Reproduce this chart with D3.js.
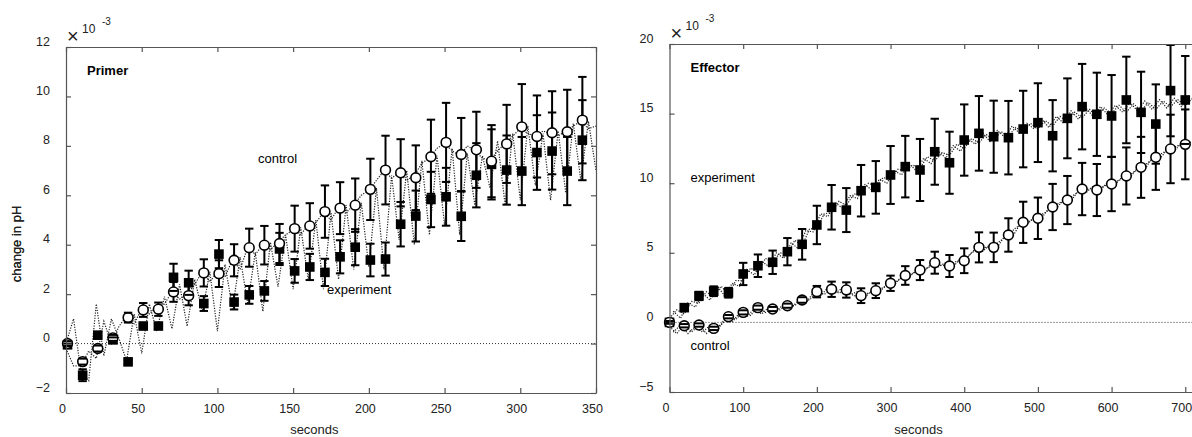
<!DOCTYPE html>
<html>
<head>
<meta charset="utf-8">
<script src="https://cdn.jsdelivr.net/npm/d3@7"></script>
<style>
  body { margin: 0; background: #fff; }
  svg { display: block; font-family: "Liberation Sans", Arial, sans-serif; }
</style>
</head>
<body>
<svg id="chart" width="1192" height="437"></svg>
<script>
// 左图 Primer：时间点 (s)
const primerTime = [1, 11, 21, 31, 41, 51, 61, 71, 81, 91, 101, 111, 121, 131, 141, 151, 161, 171,
    181, 191, 201, 211, 221, 231, 241, 251, 261, 271, 281, 291, 301, 311, 321, 331, 341];
const primerControl = [0.0, -0.73, -0.2, 0.23, 1.05, 1.36, 1.39, 2.09, 1.94, 2.86, 2.83, 3.37, 3.88, 3.98,
    4.05, 4.65, 4.76, 5.34, 5.48, 5.6, 6.24, 7.02, 6.91, 6.71, 7.56, 8.14, 7.65, 7.84, 7.38, 8.08,
    8.77, 8.38, 8.53, 8.57, 9.04];
const primerControlErr = [0.1, 0.12, 0.12, 0.12, 0.2, 0.28, 0.27, 0.4, 0.39, 0.55, 0.54, 0.65, 0.77, 0.78,
    0.79, 0.93, 0.92, 1.06, 1.05, 1.08, 1.24, 1.39, 1.36, 1.31, 1.5, 1.6, 1.48, 1.54, 1.46, 1.58,
    1.73, 1.66, 1.68, 1.7, 1.75];
const primerExp = [-0.05, -1.28, 0.34, 0.15, -0.74, 0.71, 0.71, 2.68, 2.46, 1.62, 3.62, 1.68, 1.97, 2.13,
    3.83, 2.94, 3.1, 2.88, 3.51, 3.9, 3.38, 3.42, 4.83, 5.16, 5.83, 5.94, 5.15, 6.81, 7.25, 7.02,
    6.98, 7.73, 7.79, 6.98, 8.23];
const primerExpErr = [0.05, 0.24, 0.1, 0.1, 0.08, 0.08, 0.08, 0.55, 0.49, 0.3, 0.57, 0.3, 0.36, 0.4,
    0.65, 0.48, 0.53, 0.55, 0.67, 0.73, 0.66, 0.67, 0.9, 1.03, 1.12, 1.17, 1.0, 1.3, 1.42, 1.4,
    1.38, 1.51, 1.56, 1.38, 1.62];
// 左图虚线原始曲线 (每 5 s)
const primerTraceTime = d3.range(0, 351, 5);
const primerTraceA = [0, 1.0, -1.2, -1.5, 1.6, -0.5, 1.0, 0.2, -0.7, 1.2, -0.4, 1.6, 0.5, 1.9, 0.6, 2.4,
    0.7, 2.6, 1.3, 2.9, 0.5, 3.2, 1.4, 3.5, 1.6, 3.7, 1.3, 4.1, 2.3, 4.4, 2.2, 4.7, 2.6, 5.0, 2.2,
    5.3, 2.6, 5.6, 3.0, 5.7, 3.1, 6.3, 3.0, 6.8, 4.2, 7.0, 4.0, 7.4, 4.4, 7.6, 4.8, 7.9, 4.4, 7.7,
    5.6, 7.6, 6.3, 8.2, 5.6, 8.5, 5.8, 8.8, 6.4, 8.5, 5.8, 8.6, 6.1, 8.9, 6.6, 9.0, 7.0];
const primerTraceB = [-0.2, -0.9, -0.9, -0.3, -0.6, 0.9, 0.0, 0.7, 1.1, 0.8, 1.4, 1.2, 1.5, 1.6, 2.1, 1.8,
    2.0, 2.4, 2.9, 2.5, 2.9, 2.7, 3.4, 3.0, 3.9, 3.6, 4.0, 3.8, 4.1, 4.4, 4.6, 4.4, 4.8, 4.9, 5.3,
    5.0, 5.5, 5.3, 5.6, 6.0, 6.2, 6.6, 7.0, 6.7, 6.9, 6.6, 6.8, 7.3, 7.5, 7.9, 8.1, 7.8, 7.6, 8.0,
    7.8, 7.5, 7.4, 7.8, 8.1, 8.4, 8.7, 8.5, 8.4, 8.6, 8.5, 8.4, 8.6, 8.8, 9.0, 8.7, 8.8];

// 右图 Effector
const effectorTime = [0, 20, 40, 60, 80, 100, 120, 140, 160, 180, 200, 220, 240, 260, 280, 300, 320, 340,
    360, 380, 400, 420, 440, 460, 480, 500, 520, 540, 560, 580, 600, 620, 640, 660, 680, 700];
const effectorControl = [0.0, -0.24, -0.19, -0.43, 0.41, 0.72, 1.06, 0.96, 1.2, 1.61, 2.21, 2.38, 2.33,
    1.92, 2.28, 2.81, 3.37, 3.76, 4.29, 4.05, 4.43, 5.39, 5.39, 6.28, 7.19, 7.48, 8.29, 8.79, 9.58,
    9.51, 9.94, 10.52, 11.14, 11.86, 12.46, 12.79];
const effectorControlErr = [0.1, 0.12, 0.12, 0.12, 0.12, 0.15, 0.15, 0.15, 0.15, 0.2, 0.41, 0.55, 0.55,
    0.53, 0.53, 0.55, 0.67, 0.72, 0.79, 0.79, 0.89, 1.08, 1.06, 1.2, 1.48, 1.49, 1.66, 1.73, 1.88,
    1.87, 1.95, 2.05, 2.19, 2.34, 2.46, 2.51];
const effectorExp = [0.0, 1.06, 1.9, 2.24, 2.13, 3.48, 4.07, 4.32, 5.08, 5.61, 7.0, 8.27, 8.07, 9.46,
    9.7, 10.59, 11.19, 10.95, 12.26, 11.47, 13.1, 13.58, 13.34, 13.27, 13.89, 14.35, 13.41, 14.66,
    15.5, 14.95, 14.83, 15.98, 15.09, 14.25, 16.65, 15.98];
const effectorExpErr = [0.05, 0.2, 0.3, 0.35, 0.35, 0.8, 0.81, 0.84, 0.98, 1.1, 1.38, 1.6, 1.58, 1.85,
    1.89, 2.08, 2.21, 2.23, 2.37, 2.23, 2.56, 2.68, 2.59, 2.64, 2.75, 2.83, 2.56, 2.87, 3.07, 2.99,
    2.94, 3.11, 2.92, 2.85, 3.28, 3.16];
// 右图虚线原始曲线 (两组，错开 5 s)
const effectorTraceTime = d3.range(0, 711, 10);
const effectorTraceTime2 = d3.range(5, 706, 10);
const effectorTraceExp = [0.3, 0.9, 0.6, 1.5, 1.4, 2.2, 1.8, 2.6, 2.0, 3.0, 3.0, 3.9, 3.6, 4.6, 4.3, 5.0,
    4.9, 5.9, 5.5, 6.7, 6.8, 7.8, 7.9, 8.7, 8.4, 9.2, 9.3, 10.0, 9.8, 10.4, 10.3, 11.0, 10.9, 11.3,
    11.1, 11.9, 11.6, 12.2, 12.0, 12.8, 12.5, 13.2, 12.9, 13.5, 13.1, 13.7, 13.4, 14.0, 13.7, 14.3,
    13.9, 14.5, 14.1, 14.8, 14.4, 15.1, 14.7, 15.3, 14.8, 15.4, 15.0, 15.6, 15.1, 15.7, 15.2, 15.8,
    15.3, 15.9, 15.5, 16.0, 15.6, 16.1];
const effectorTraceExp2 = [0.8, 0.3, 1.4, 1.1, 2.1, 1.6, 2.6, 1.9, 2.8, 2.6,
    3.8, 3.4, 4.4, 4.0, 5.0, 4.6, 5.7, 5.3, 6.6, 6.5,
    7.8, 7.6, 8.6, 8.2, 9.1, 8.9, 9.9, 9.5, 10.3, 10.0,
    10.9, 10.6, 11.4, 10.9, 11.8, 11.4, 12.3, 11.8, 12.7, 12.3,
    13.2, 12.8, 13.6, 13.0, 13.8, 13.3, 14.1, 13.6, 14.3, 13.9,
    14.6, 14.0, 14.8, 14.3, 15.2, 14.6, 15.4, 14.8, 15.5, 14.9,
    15.6, 15.1, 15.8, 15.2, 15.9, 15.3, 16.0, 15.4, 16.1, 15.5, 16.2];
const effectorTraceControl = [-0.3, -0.8, -0.1, -0.7, -0.2, -0.8, -0.3, -0.2, 0.5, 0.2, 0.8, 0.5, 1.1,
    0.7, 1.0, 0.9, 1.3, 1.2, 1.7, 1.6, 2.2, 2.0, 2.4, 2.1, 2.4, 1.9, 2.0, 2.1, 2.3, 2.5, 2.8, 3.0,
    3.4, 3.5, 3.8, 3.9, 4.2, 4.1, 4.1, 4.4, 4.5, 5.0, 5.3, 5.4, 5.5, 5.9, 6.3, 6.8, 7.1, 7.3, 7.6,
    7.9, 8.3, 8.6, 8.8, 9.2, 9.5, 9.6, 9.6, 9.8, 10.0, 10.2, 10.5, 10.8, 11.1, 11.5, 11.9, 12.2,
    12.5, 12.7, 12.8, 13.0];
const effectorTraceControl2 = [-0.7, -0.2, -0.8, -0.3, -0.7, -0.2, -0.6, 0.3, 0.0, 0.7,
    0.4, 1.0, 0.6, 1.1, 0.8, 1.3, 1.0, 1.6, 1.4, 2.1,
    1.9, 2.5, 2.1, 2.5, 2.0, 2.2, 1.8, 2.3, 2.2, 2.7,
    2.7, 3.3, 3.2, 3.8, 3.6, 4.2, 4.0, 4.3, 4.0, 4.6,
    4.7, 5.3, 5.1, 5.6, 5.4, 6.2, 6.1, 7.0, 7.0, 7.6,
    7.5, 8.2, 8.2, 8.8, 8.7, 9.5, 9.3, 9.8, 9.5, 10.1,
    9.9, 10.5, 10.4, 11.1, 11.0, 11.8, 11.7, 12.4, 12.3, 12.9, 12.8];

const svg = d3.select("#chart");

function drawPanel(cfg) {
    const g = svg.append("g").attr("transform", `translate(${cfg.left},${cfg.top})`);
    const x = d3.scaleLinear().domain(cfg.xDomain).range([0, cfg.width]);
    const y = d3.scaleLinear().domain(cfg.yDomain).range([cfg.height, 0]);

    // 零线
    g.append("line")
        .attr("x1", 0).attr("x2", cfg.width)
        .attr("y1", y(0)).attr("y2", y(0))
        .style("stroke", "#333").style("stroke-width", 1)
        .style("stroke-dasharray", "1,2");

    // 虚线曲线
    const line = d3.line().x(d => x(d[0])).y(d => y(d[1]));
    cfg.traces.forEach(tr => {
        g.append("path")
            .datum(tr.time.map((t, i) => [t, tr.vals[i]]))
            .attr("d", line)
            .style("fill", "none")
            .style("stroke", "#222")
            .style("stroke-width", 1.2)
            .style("stroke-dasharray", "1.2,1.4");
    });

    const series = [
        { vals: cfg.exp, err: cfg.expErr, type: "square" },
        { vals: cfg.control, err: cfg.controlErr, type: "circle" }
    ];
    const cap = 4.2;

    // 误差棒竖线
    series.forEach(s => {
        cfg.time.forEach((t, i) => {
            g.append("line")
                .attr("x1", x(t)).attr("x2", x(t))
                .attr("y1", y(s.vals[i] - s.err[i])).attr("y2", y(s.vals[i] + s.err[i]))
                .style("stroke", "#000").style("stroke-width", 2);
        });
    });

    // 标记
    series.forEach(s => {
        cfg.time.forEach((t, i) => {
            if (s.type === "square") {
                g.append("rect")
                    .attr("x", x(t) - 4.8).attr("y", y(s.vals[i]) - 4.8)
                    .attr("width", 9.6).attr("height", 9.6)
                    .style("fill", "#000");
            } else {
                g.append("circle")
                    .attr("cx", x(t)).attr("cy", y(s.vals[i]))
                    .attr("r", 4.9)
                    .style("fill", "#fff").style("stroke", "#000").style("stroke-width", 1.6);
            }
        });
    });

    // 误差棒帽
    series.forEach(s => {
        cfg.time.forEach((t, i) => {
            [s.vals[i] - s.err[i], s.vals[i] + s.err[i]].forEach(v => {
                g.append("line")
                    .attr("x1", x(t) - cap).attr("x2", x(t) + cap)
                    .attr("y1", y(v)).attr("y2", y(v))
                    .style("stroke", "#000").style("stroke-width", 2);
            });
        });
    });

    // 坐标框和刻度（朝内）
    const frameColor = "#555";
    const axes = [
        g.append("g").attr("transform", `translate(0,${cfg.height})`)
            .call(d3.axisBottom(x).tickValues(cfg.xTicks).tickSizeInner(-5).tickSizeOuter(0).tickPadding(11)),
        g.append("g")
            .call(d3.axisTop(x).tickValues(cfg.xTicks).tickSizeInner(-5).tickSizeOuter(0).tickFormat("")),
        g.append("g")
            .call(d3.axisLeft(y).tickValues(cfg.yTicks).tickSizeInner(-5).tickSizeOuter(0).tickPadding(16)),
        g.append("g").attr("transform", `translate(${cfg.width},0)`)
            .call(d3.axisRight(y).tickValues(cfg.yTicks).tickSizeInner(-5).tickSizeOuter(0).tickFormat(""))
    ];
    axes.forEach(a => {
        a.select(".domain").style("stroke", frameColor).style("stroke-width", 1.2);
        a.selectAll(".tick line").style("stroke", frameColor).style("stroke-width", 1.2);
        a.selectAll("text").style("font-size", "12.5px").style("fill", "#222")
            .style("font-family", "'Liberation Sans', Arial, sans-serif");
    });
    axes[0].selectAll("text").attr("transform", "translate(-4,0)");
    axes[2].selectAll("text").attr("transform", "translate(0,-6)");

    // ×10^-3
    g.append("text").attr("x", 1).attr("y", -4)
        .style("font-size", "20px").style("font-weight", "300").style("fill", "#222").text("×");
    g.append("text").attr("x", 16).attr("y", -14)
        .style("font-size", "12px").style("fill", "#222").text("10");
    g.append("text").attr("x", 36).attr("y", -22)
        .style("font-size", "10px").style("fill", "#222").text("-3");

    // 轴标题
    g.append("text")
        .attr("x", x(cfg.xLabelAt)).attr("y", 434 - cfg.top)
        .attr("text-anchor", "middle")
        .style("font-size", "13px").style("fill", "#222").text("seconds");
    g.append("text")
        .attr("transform", `translate(${-cfg.left + 21},${cfg.yLabelY}) rotate(-90)`)
        .attr("text-anchor", "middle")
        .style("font-size", "13px").style("fill", "#222").text("change in pH");

    // 图内文字
    cfg.notes.forEach(n => {
        g.append("text")
            .attr("x", n.x).attr("y", y(n.v))
            .attr("dy", "0.35em")
            .style("font-size", "13px")
            .style("font-weight", n.bold ? "bold" : "normal")
            .style("fill", "#000")
            .text(n.text);
    });
}

drawPanel({
    left: 66, top: 47, width: 530, height: 346,
    xDomain: [0, 350], yDomain: [-2, 12],
    xTicks: d3.range(0, 351, 50), yTicks: d3.range(-2, 13, 2),
    time: primerTime, control: primerControl, controlErr: primerControlErr,
    exp: primerExp, expErr: primerExpErr,
    traces: [
        { time: primerTraceTime, vals: primerTraceA },
        { time: primerTraceTime, vals: primerTraceB }
    ],
    xLabelAt: 164, yLabelY: 197,
    notes: [
        { text: "Primer", x: 21, v: 11.07, bold: true },
        { text: "control", x: 192, v: 7.5 },
        { text: "experiment", x: 261, v: 2.2 }
    ]
});

drawPanel({
    left: 669.5, top: 44, width: 530.5, height: 348,
    xDomain: [0, 720], yDomain: [-5, 20],
    xTicks: d3.range(0, 701, 100), yTicks: d3.range(-5, 21, 5),
    time: effectorTime, control: effectorControl, controlErr: effectorControlErr,
    exp: effectorExp, expErr: effectorExpErr,
    traces: [
        { time: effectorTraceTime, vals: effectorTraceExp },
        { time: effectorTraceTime2, vals: effectorTraceExp2 },
        { time: effectorTraceTime, vals: effectorTraceControl },
        { time: effectorTraceTime2, vals: effectorTraceControl2 }
    ],
    xLabelAt: 338, yLabelY: 200,
    notes: [
        { text: "Effector", x: 21, v: 18.33, bold: true },
        { text: "experiment", x: 21, v: 10.4 },
        { text: "control", x: 21, v: -1.62 }
    ]
});
</script>
</body>
</html>
